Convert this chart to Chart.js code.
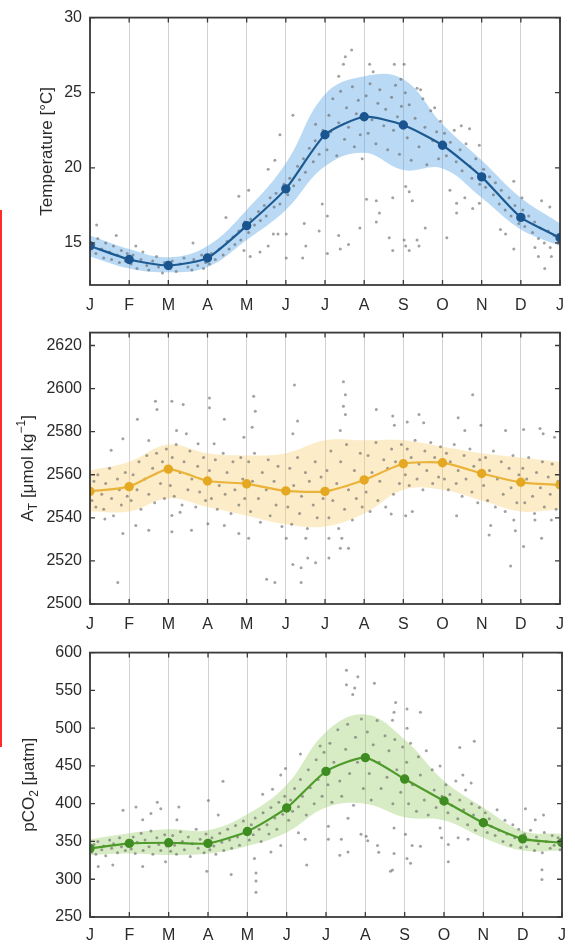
<!DOCTYPE html>
<html>
<head>
<meta charset="utf-8">
<script src="https://cdn.jsdelivr.net/npm/chart.js@4.4.1/dist/chart.umd.min.js"></script>
<style>
html,body{margin:0;padding:0;background:#fff;}
body{width:575px;height:946px;position:relative;overflow:hidden;}
canvas{position:absolute;left:0;}
#redline{position:absolute;left:0;top:210px;width:2px;height:537px;background:#ff2a2a;}
</style>
</head>
<body>
<canvas id="c1" width="575" height="315" style="top:0px"></canvas>
<canvas id="c2" width="575" height="320" style="top:315px"></canvas>
<canvas id="c3" width="575" height="311" style="top:635px"></canvas>
<div id="redline"></div>
<script>
// ---------- DATA ----------
const monthLabels = ['J','F','M','A','M','J','J','A','S','O','N','D','J'];
const monthPos = [0,1,2,3,4,5,6,7,8,9,10,11,12];

const tempTicks = [15,20,25,30];
const tempMean  = [14.8,13.9,13.5,14.0,16.15,18.6,22.2,23.4,22.85,21.5,19.4,16.7,15.35];
const tempUpper = [15.5,14.6,14.05,14.8,17.2,20.3,24.9,26.1,25.9,22.9,20.5,18.0,16.3];
const tempLower = [14.1,13.3,13.05,13.4,15.2,17.2,20.1,21.0,19.85,19.95,18.0,15.9,14.8];
const tempDots = [
[0.1,14.9],[0.15,14.3],[0.2,15.3],[0.3,14.6],[0.35,14.0],[0.4,15.0],[0.5,14.4],[0.55,13.9],[0.6,14.8],[0.7,14.2],[0.75,13.7],[0.8,14.5],[0.9,13.8],[0.95,14.3],
[1.05,13.6],[1.1,14.2],[1.2,13.3],[1.3,13.9],[1.35,14.4],[1.45,13.5],[1.5,13.2],[1.6,13.8],[1.7,14.1],[1.75,13.4],[1.85,13.0],[1.9,13.7],
[2.05,13.3],[2.1,13.8],[2.2,13.1],[2.3,13.6],[2.4,14.0],[2.5,13.4],[2.6,13.2],[2.65,13.9],[2.75,13.5],[2.85,14.2],[2.9,13.3],[2.95,13.7],
[3.05,13.6],[3.1,14.3],[3.2,13.9],[3.3,14.6],[3.4,14.2],[3.5,15.1],[3.55,14.6],[3.65,15.4],[3.7,14.9],[3.8,15.8],[3.85,15.2],[3.95,16.4],
[4.05,15.7],[4.1,16.6],[4.2,16.2],[4.3,17.1],[4.35,16.5],[4.45,17.5],[4.5,16.8],[4.6,18.0],[4.7,17.4],[4.75,18.3],[4.85,17.6],[4.95,18.9],
[5.05,18.2],[5.1,19.3],[5.2,18.8],[5.3,20.1],[5.35,19.2],[5.45,20.6],[5.5,19.7],[5.6,21.3],[5.7,20.4],[5.75,21.8],[5.85,20.9],[5.95,22.5],
[6.05,21.2],[6.1,23.5],[6.15,22.4],[6.2,24.6],[6.3,20.8],[6.35,23.0],[6.4,25.1],[6.5,21.9],[6.55,24.0],[6.6,22.7],[6.7,25.4],[6.75,21.4],[6.8,23.6],[6.85,24.5],[6.9,22.2],[6.95,20.6],
[7.05,24.8],[7.1,22.3],[7.15,25.6],[7.2,23.2],[7.3,21.6],[7.35,24.3],[7.4,25.2],[7.5,22.8],[7.55,23.9],[7.6,21.2],[7.7,24.7],[7.75,22.5],[7.8,25.5],[7.85,23.4],[7.9,20.9],[7.95,24.1],
[8.05,25.0],[8.1,22.0],[8.15,24.2],[8.2,20.5],[8.3,23.3],[8.35,25.3],[8.4,21.4],[8.5,24.6],[8.55,22.7],[8.6,20.2],[8.7,23.8],[8.75,21.8],[8.8,24.0],[8.85,22.4],[8.9,20.6],[8.95,23.1],
[9.05,22.3],[9.1,20.8],[9.2,21.7],[9.3,22.5],[9.35,20.4],[9.45,21.2],[9.5,19.8],[9.6,21.6],[9.7,20.1],[9.75,19.3],[9.85,20.6],[9.95,18.9],
[10.05,19.9],[10.1,18.7],[10.2,19.4],[10.3,18.2],[10.35,19.0],[10.45,17.6],[10.5,18.5],[10.6,17.2],[10.7,18.0],[10.75,16.8],[10.85,17.5],[10.95,16.3],
[11.05,17.2],[11.1,16.1],[11.2,16.8],[11.3,15.7],[11.35,16.4],[11.45,15.3],[11.5,16.0],[11.6,15.0],[11.7,15.8],[11.75,14.7],[11.85,15.5],[11.95,15.0],
[0.17,16.2],[0.67,15.5],[1.17,14.8],[2.63,15.0],[3.47,16.7],[3.8,18.1],[4.05,18.5],[4.55,19.9],[4.72,20.5],[4.85,22.2],[5.18,23.5],[4.68,15.6],[4.8,15.6],[5.01,15.6],
[4.55,14.8],[5.01,14.0],[5.43,14.0],[5.51,14.8],[5.47,16.3],[5.85,15.8],[3.93,14.5],[4.09,14.1],[4.34,14.4],[5.93,17.6],[5.76,22.9],
[6.68,27.85],[6.52,27.4],[6.47,26.9],[6.35,26.1],[7.14,26.9],[7.23,26.4],[7.77,26.9],[8.02,26.9],[7.94,25.9],[8.44,25.2],
[7.06,17.9],[7.31,17.8],[7.73,18.0],[7.39,17.0],[7.31,16.4],[6.89,16.0],[6.35,15.5],[6.6,14.9],[6.39,14.6],[6.06,14.3],[6.06,16.8],
[7.64,15.35],[7.73,14.5],[8.02,15.2],[8.06,14.8],[8.15,14.5],[8.35,15.2],[8.4,14.8],[8.56,16.0],[8.06,18.75],[8.15,18.4],[8.23,17.8],
[9.11,15.35],[9.19,18.5],[9.36,17.65],[9.36,17.0],[9.57,18.0],[9.77,17.3],[9.94,17.65],[9.48,22.8],[9.69,22.6],[9.94,21.5],
[10.48,15.9],[10.61,15.6],[10.82,14.6],[11.36,14.7],[11.45,14.1],[11.61,13.3],[11.78,14.1],[10.82,19.1],[11.03,18.0],[11.53,17.8],[11.74,17.4]
];

const atTicks = [2500,2520,2540,2560,2580,2600,2620];
const atMean  = [2552.3,2554.5,2562.6,2557.1,2555.8,2552.5,2552.3,2557.6,2565.1,2565.6,2560.6,2556.5,2555.3];
const atUpper = [2562,2566,2574,2570,2569,2570,2576,2576,2576,2573,2570,2568,2566];
const atLower = [2543,2543,2549,2545,2541,2537,2536,2542,2553,2553,2548,2543,2544];
const atDots = [
[0.05,2548],[0.1,2557],[0.15,2545],[0.2,2560],[0.3,2551],[0.35,2544],[0.4,2556],[0.5,2563],[0.55,2549],[0.6,2541],[0.7,2558],[0.75,2553],[0.8,2546],[0.9,2561],[0.95,2550],
[1.05,2548],[1.1,2560],[1.2,2553],[1.25,2566],[1.3,2544],[1.4,2558],[1.45,2569],[1.5,2551],[1.6,2563],[1.65,2547],[1.7,2570],[1.8,2556],[1.85,2566],[1.9,2549],[1.95,2572],
[2.05,2555],[2.1,2568],[2.15,2550],[2.2,2574],[2.3,2561],[2.35,2546],[2.4,2566],[2.5,2553],[2.55,2571],[2.6,2558],[2.7,2545],[2.75,2564],[2.8,2552],[2.9,2568],[2.95,2548],
[3.05,2562],[3.1,2549],[3.2,2567],[3.25,2544],[3.3,2555],[3.4,2570],[3.45,2551],[3.5,2561],[3.6,2542],[3.65,2566],[3.7,2553],[3.8,2546],[3.85,2568],[3.9,2558],[3.95,2549],
[4.05,2566],[4.1,2543],[4.15,2557],[4.2,2570],[4.3,2549],[4.35,2538],[4.4,2561],[4.5,2553],[4.55,2567],[4.6,2541],[4.7,2557],[4.75,2546],[4.8,2564],[4.9,2536],[4.95,2552],
[5.05,2545],[5.1,2563],[5.15,2537],[5.2,2555],[5.3,2568],[5.35,2542],[5.4,2550],[5.5,2561],[5.55,2535],[5.6,2557],[5.7,2546],[5.75,2566],[5.8,2540],[5.9,2559],[5.95,2549],
[6.05,2562],[6.1,2540],[6.15,2571],[6.2,2548],[6.3,2556],[6.35,2535],[6.4,2566],[6.5,2544],[6.55,2574],[6.6,2553],[6.7,2539],[6.75,2562],[6.8,2549],[6.9,2570],[6.95,2545],
[7.05,2552],[7.1,2569],[7.15,2543],[7.2,2561],[7.3,2575],[7.35,2548],[7.4,2557],[7.5,2567],[7.55,2545],[7.6,2563],[7.7,2572],[7.75,2551],[7.8,2566],[7.9,2556],[7.95,2574],
[8.05,2560],[8.1,2572],[8.15,2555],[8.2,2568],[8.3,2576],[8.35,2558],[8.4,2565],[8.5,2553],[8.55,2571],[8.6,2562],[8.7,2575],[8.75,2556],[8.8,2568],[8.9,2559],[8.95,2573],
[9.05,2558],[9.1,2570],[9.15,2553],[9.2,2566],[9.3,2574],[9.35,2556],[9.4,2562],[9.5,2550],[9.55,2569],[9.6,2558],[9.7,2572],[9.75,2552],[9.8,2564],[9.9,2547],[9.95,2567],
[10.05,2555],[10.1,2568],[10.15,2548],[10.2,2562],[10.3,2571],[10.35,2545],[10.4,2558],[10.5,2566],[10.55,2551],[10.6,2543],[10.7,2563],[10.75,2554],[10.8,2569],[10.9,2547],[10.95,2560],
[11.05,2563],[11.1,2547],[11.15,2558],[11.2,2568],[11.3,2550],[11.35,2542],[11.4,2561],[11.5,2554],[11.55,2566],[11.6,2545],[11.7,2559],[11.75,2551],[11.8,2565],[11.9,2544],[11.95,2557],
[0.71,2510],[0.84,2532.7],[0.38,2539.5],[0.54,2571.4],[0.84,2576.7],[1.21,2585.8],[1.67,2594.1],[1.71,2590.3],[2.09,2594.1],[2.38,2592.6],[1.5,2575.9],[2.21,2580.5],[2.46,2579],
[1.17,2536.5],[1.5,2534.2],[2.09,2533.5],[2.09,2541.1],[2.3,2542.6],[2.59,2534.2],[3.05,2595.6],[3.05,2591.1],[3.43,2585.8],[2.76,2574.4],[3.17,2574.4],[3.43,2536.5],
[3.01,2537.3],[3.8,2532.7],[4.05,2530.5],[4.18,2596.4],[4.22,2589.5],[4.14,2582],[3.93,2577.4],[4.51,2511.5],[4.72,2510],[5.01,2530.5],[5.18,2518.3],[5.39,2516.8],
[5.22,2601.7],[5.3,2585],[5.18,2579],[5.56,2521.4],[5.76,2519.1],[5.51,2530.5],[5.39,2510],
[6.47,2603.2],[6.52,2597.1],[6.47,2591.8],[6.52,2588],[7.31,2590.3],[6.39,2580.5],[6.1,2521.4],[6.39,2525.9],[6.6,2525.9],[6.43,2530.5],[6.1,2530.5],
[7.73,2587.3],[7.77,2583],[8.4,2588],[8.52,2584.2],[8.1,2584.5],[7.69,2541.8],[8.06,2541],[8.23,2543],[9.36,2541],[9.4,2586.5],[9.57,2580.5],[9.77,2597.1],[9.98,2583],
[10.19,2532],[10.23,2536.5],[10.61,2580.5],[10.74,2517.6],[10.82,2539],[10.86,2534],[11.07,2526.7],[11.07,2581],[11.49,2581.5],[11.57,2579],[11.36,2539],[11.53,2530.5],[11.78,2539],[11.86,2577.4]
];

const pco2Ticks = [250,300,350,400,450,500,550,600];
const pco2Mean  = [340.7,347.4,348.3,347.4,363.2,394.3,442.8,461,432.6,403.6,374.7,353.4,348.3];
const pco2Upper = [353,361,366,365,386,425,495,518,485,430,395,364,360];
const pco2Lower = [332,334,332,334,344,362,395,400,382,378,355,338,338];
const pco2Dots = [
[0.05,336],[0.1,346],[0.15,333],[0.2,350],[0.3,339],[0.35,344],[0.4,331],[0.5,352],[0.55,341],[0.6,347],[0.7,335],[0.75,355],[0.8,343],[0.9,338],[0.95,351],
[1.05,340],[1.1,356],[1.15,334],[1.2,349],[1.3,361],[1.35,338],[1.4,352],[1.5,343],[1.55,364],[1.6,333],[1.7,355],[1.75,346],[1.8,338],[1.9,359],[1.95,344],
[2.05,337],[2.1,358],[2.15,345],[2.2,333],[2.3,363],[2.35,350],[2.4,339],[2.5,356],[2.55,330],[2.6,347],[2.7,366],[2.75,341],[2.8,353],[2.9,335],[2.95,360],
[3.05,339],[3.1,355],[3.15,344],[3.2,333],[3.3,361],[3.35,349],[3.4,338],[3.5,366],[3.55,352],[3.6,341],[3.7,371],[3.75,356],[3.8,345],[3.9,377],[3.95,360],
[4.05,352],[4.1,372],[4.15,359],[4.2,381],[4.3,366],[4.35,350],[4.4,388],[4.5,372],[4.55,360],[4.6,395],[4.7,381],[4.75,366],[4.8,402],[4.9,386],[4.95,410],
[5.05,378],[5.1,405],[5.15,390],[5.2,420],[5.3,396],[5.35,432],[5.4,410],[5.5,385],[5.55,445],[5.6,421],[5.7,400],[5.75,458],[5.8,432],[5.9,410],[5.95,468],
[6.05,425],[6.1,480],[6.15,402],[6.2,455],[6.3,498],[6.35,430],[6.4,410],[6.5,472],[6.55,505],[6.6,440],[6.7,398],[6.75,488],[6.8,455],[6.9,512],[6.95,420],
[7.05,495],[7.1,440],[7.15,405],[7.2,478],[7.3,510],[7.35,455],[7.4,420],[7.5,490],[7.55,435],[7.6,470],[7.7,400],[7.75,485],[7.8,445],[7.9,415],[7.95,475],
[8.05,455],[8.1,400],[8.15,480],[8.2,425],[8.3,390],[8.35,462],[8.4,438],[8.5,405],[8.55,470],[8.6,385],[8.7,445],[8.75,418],[8.8,395],[8.9,450],[8.95,410],
[9.05,425],[9.1,388],[9.15,412],[9.2,398],[9.3,430],[9.35,380],[9.4,405],[9.5,392],[9.55,418],[9.6,372],[9.7,400],[9.75,385],[9.8,365],[9.9,395],[9.95,378],
[10.05,388],[10.1,362],[10.15,380],[10.2,370],[10.3,358],[10.35,392],[10.4,365],[10.5,350],[10.55,378],[10.6,360],[10.7,345],[10.75,372],[10.8,355],[10.9,366],[10.95,342],
[11.05,360],[11.1,343],[11.15,352],[11.2,365],[11.3,338],[11.35,356],[11.4,347],[11.5,335],[11.55,362],[11.6,350],[11.7,341],[11.75,358],[11.8,345],[11.9,355],[11.95,339],
[0.21,316.8],[0.58,319],[0.84,391.4],[1.17,395.6],[1.34,378.6],[1.71,402],[1.8,393.4],[1.55,387],[2.26,395.6],[2.21,378.6],[1.34,316.8],[1.92,323.2],[2.97,310.4],
[3.01,404.1],[3.38,429.7],[3.26,385],[3.59,306.2],[4.18,327.5],[4.22,308.4],[4.22,297.6],[4.22,282.8],[4.6,336],[4.85,344.5],[4.85,438.1],[4.97,446.7],
[5.3,361.5],[5.47,353],[5.51,319],[5.35,465.8],[5.85,476.4],[4.39,412.6],[4.64,419],
[6.52,576.5],[6.52,557.4],[6.73,553],[6.81,568],[6.68,544.6],[7.23,559.4],[7.77,533.9],[7.73,521.1],[8.06,525.4],[8.4,521.1],[7.69,510.5],[8.06,499.9],
[9.77,482.8],[9.4,474.4],[9.48,438.1],[9.69,427.5],[6.39,353],[6.35,331.7],[6.56,336],[6.56,380.6],[6.89,359.4],[7.06,350.9],[7.31,344.5],[7.64,310.4],
[7.73,333.9],[7.73,367.9],[8.02,359.4],[8.06,327.5],[8.15,321.1],[8.19,344.5],[8.4,343.8],[8.9,367.9],[8.94,355],[9.11,323.2],[9.11,346],[9.36,355],[9.61,353],
[11.07,393.4],[11.32,378.6],[11.53,385],[11.49,312.6],[11.49,299.8],[6.06,370],[6.06,353],[7.02,357],[7.34,335.6],[7.69,312.2]
];

// ---------- DRAWING ----------
const FONT = "'Liberation Sans', Arial, sans-serif";

const framePlugin = {
  id: 'frame',
  afterDraw(chart) {
    const ctx = chart.ctx, a = chart.chartArea;
    const xs = chart.scales.x, ys = chart.scales.y;
    ctx.save();
    ctx.strokeStyle = '#3a3a3a';
    ctx.lineWidth = 1.3;
    ctx.beginPath();
    ys.ticks.forEach(t => {
      const p = ys.getPixelForValue(t.value);
      ctx.moveTo(a.left, p); ctx.lineTo(a.left + 5, p);
      ctx.moveTo(a.right, p); ctx.lineTo(a.right - 5, p);
    });
    xs.ticks.forEach(t => {
      const p = xs.getPixelForValue(t.value);
      ctx.moveTo(p, a.bottom); ctx.lineTo(p, a.bottom - 5);
      ctx.moveTo(p, a.top); ctx.lineTo(p, a.top + 5);
    });
    ctx.stroke();
    ctx.lineWidth = 1.8;
    ctx.strokeRect(a.left, a.top, a.right - a.left, a.bottom - a.top);
    ctx.restore();

    // y-axis title with sub/superscripts
    const o = chart.options.plugins.ytitle;
    if (!o) return;
    const size = o.size, small = Math.round(size * 0.72);
    ctx.save();
    ctx.fillStyle = '#2a2a2a';
    let total = 0;
    o.segs.forEach(s => {
      ctx.font = (s.sub || s.sup ? small : size) + 'px ' + FONT;
      s.w = ctx.measureText(s.t).width;
      total += s.w;
    });
    const cy = (a.top + a.bottom) / 2;
    ctx.translate(o.x, cy);
    ctx.rotate(-Math.PI / 2);
    ctx.textBaseline = 'middle';
    ctx.textAlign = 'left';
    let pos = -total / 2;
    o.segs.forEach(s => {
      ctx.font = (s.sub || s.sup ? small : size) + 'px ' + FONT;
      const dy = s.sub ? size * 0.35 : (s.sup ? -size * 0.38 : 0);
      ctx.fillText(s.t, pos, dy);
      pos += s.w;
    });
    ctx.restore();
  }
};

function makeChart(id, cfg) {
  const toXY = arr => monthPos.map((x, i) => ({x: x, y: arr[i]}));
  const datasets = [
    { label: 'mean', data: toXY(cfg.mean), borderColor: cfg.line, backgroundColor: cfg.marker,
      pointBackgroundColor: cfg.marker, pointBorderColor: cfg.marker, pointRadius: 3.6, borderWidth: 2.2,
      tension: 0.2, fill: false, order: 0 },
    { label: 'obs', data: cfg.dots.map(d => ({x: d[0], y: d[1]})), showLine: false,
      pointRadius: 1.5, pointBackgroundColor: 'rgba(100,100,100,0.6)', pointBorderWidth: 0, borderWidth: 0, order: 1 },
    { label: 'upper', data: toXY(cfg.upper), borderWidth: 0, pointRadius: 0, tension: 0.4,
      fill: '+1', backgroundColor: cfg.band, borderColor: 'rgba(0,0,0,0)', order: 2 },
    { label: 'lower', data: toXY(cfg.lower), borderWidth: 0, pointRadius: 0, tension: 0.4,
      fill: false, borderColor: 'rgba(0,0,0,0)', order: 3 }
  ];
  return new Chart(document.getElementById(id), {
    type: 'line',
    data: { datasets },
    plugins: [framePlugin],
    options: {
      responsive: false, animation: false, devicePixelRatio: 1,
      layout: { padding: { top: cfg.padTop, right: 6, left: 0, bottom: 0 } },
      plugins: { legend: { display: false }, tooltip: { enabled: false },
        ytitle: { x: cfg.titleX, size: 17, segs: cfg.title } },
      scales: {
        x: { type: 'linear', min: 0, max: 12,
          grid: { color: '#d2d2d2', lineWidth: 1, drawTicks: false },
          border: { display: false },
          afterBuildTicks: s => { s.ticks = monthPos.map(v => ({value: v})); },
          afterFit: s => { s.height = cfg.xH; },
          ticks: { autoSkip: false, maxRotation: 0, padding: cfg.xPad, color: '#2a2a2a',
            font: { family: FONT, size: 16 }, callback: v => monthLabels[v] } },
        y: { min: cfg.min, max: cfg.max,
          grid: { display: false, drawTicks: false }, border: { display: false },
          afterBuildTicks: s => { s.ticks = cfg.ticks.map(v => ({value: v})); },
          afterFit: s => { s.width = 90; },
          ticks: { padding: 8, color: '#2a2a2a', font: { family: FONT, size: 16 },
            callback: v => String(v) } }
      }
    }
  });
}

makeChart('c1', { mean: tempMean, upper: tempUpper, lower: tempLower, dots: tempDots, ticks: tempTicks,
  min: 12.2, max: 30, padTop: 15, xH: 30, xPad: 11, titleX: 47,
  line: '#1d5a92', marker: '#1a5590', band: 'rgba(88,165,228,0.42)',
  title: [{t: 'Temperature [°C]'}] });

makeChart('c2', { mean: atMean, upper: atUpper, lower: atLower, dots: atDots, ticks: atTicks,
  min: 2500, max: 2626, padTop: 13, xH: 31, xPad: 11, titleX: 28,
  line: '#eab43a', marker: '#e5a823', band: 'rgba(246,204,110,0.38)',
  title: [{t: 'A'}, {t: 'T', sub: true}, {t: ' [μmol kg'}, {t: '−1', sup: true}, {t: ']'}] });

makeChart('c3', { mean: pco2Mean, upper: pco2Upper, lower: pco2Lower, dots: pco2Dots, ticks: pco2Ticks,
  min: 250, max: 600, padTop: 8, xH: 29, xPad: 9, titleX: 29,
  line: '#4e9b2c', marker: '#3f8c22', band: 'rgba(150,205,100,0.38)',
  title: [{t: 'pCO'}, {t: '2', sub: true}, {t: ' [μatm]'}] });
</script>
</body>
</html>
